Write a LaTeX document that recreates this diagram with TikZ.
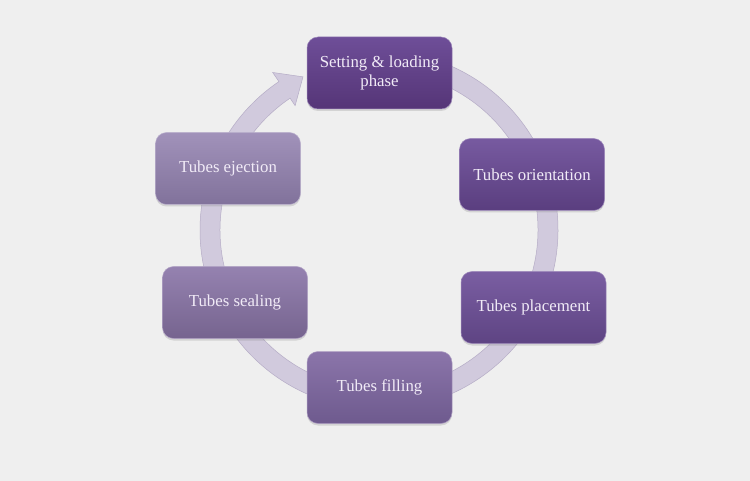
\documentclass[tikz,border=0pt]{standalone}
\usepackage{fontspec}
\setmainfont{Liberation Serif}
\usetikzlibrary{shadows}
\definecolor{bg}{HTML}{EFEFEF}
\definecolor{ringfill}{HTML}{D1CADD}
\definecolor{ringedge}{HTML}{B5ACC6}
\definecolor{boxtext}{HTML}{F1EBF7}
\definecolor{aT}{HTML}{6E4E98}\definecolor{aB}{HTML}{553577}
\definecolor{bT}{HTML}{775AA0}\definecolor{bB}{HTML}{5A3E7F}
\definecolor{cT}{HTML}{7A5EA2}\definecolor{cB}{HTML}{5E4483}
\definecolor{dT}{HTML}{8B75AA}\definecolor{dB}{HTML}{6E5A8E}
\definecolor{eT}{HTML}{9582B0}\definecolor{eB}{HTML}{76648F}
\definecolor{fT}{HTML}{A192BA}\definecolor{fB}{HTML}{81729B}
\begin{document}
\begin{tikzpicture}[x=1pt,y=-1pt,
  stepbox/.style 2 args={rounded corners=11pt, minimum width=145pt, minimum height=72pt,
    inner sep=2pt, text=boxtext, font=\fontsize{16.8}{19}\selectfont, align=center,
    top color=#1, bottom color=#2, draw=#1!70!white, line width=0.5pt,
    drop shadow={opacity=0.25, shadow xshift=0pt, shadow yshift=-2pt}}]
  \fill[bg] (0,0) rectangle (750,481);
  \useasboundingbox (0,0) rectangle (750,481);
  % ring arrow
  \begin{scope}[shift={(379,230)}]
    \filldraw[fill=ringfill, draw=ringedge, line width=0.5pt]
      (-85:179) arc[start angle=-85, end angle=236, radius=179]
      -- (236:190) -- (243.6:171) -- (236:150) -- (236:159)
      arc[start angle=236, end angle=-85, radius=159] -- cycle;
  \end{scope}
  % boxes
  \node[stepbox={aT}{aB}] (s1) at (379.5,73) {Setting \& loading\\phase};
  \node[stepbox={bT}{bB}] (s2) at (532,174.5) {Tubes orientation};
  \node[stepbox={cT}{cB}] (s3) at (533.5,307.5) {Tubes placement};
  \node[stepbox={dT}{dB}] (s4) at (379.5,387.5) {Tubes filling};
  \node[stepbox={eT}{eB}] (s5) at (235,302.5) {Tubes sealing};
  \node[stepbox={fT}{fB}] (s6) at (228,168.5) {Tubes ejection};
\end{tikzpicture}
\end{document}
